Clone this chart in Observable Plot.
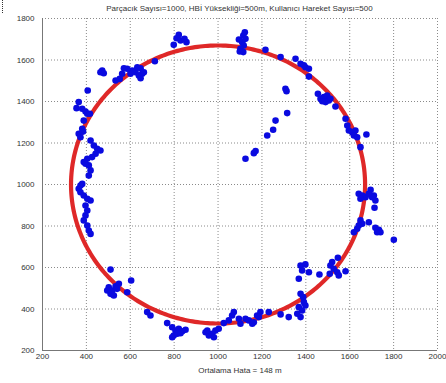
<!DOCTYPE html>
<html>
<head>
<meta charset="utf-8">
<script src="https://cdn.jsdelivr.net/npm/d3@7"></script>
<script src="https://cdn.jsdelivr.net/npm/@observablehq/plot@0.6"></script>
<style>
  html, body { margin: 0; padding: 0; background: #fff; }
  #wrap { position: relative; width: 446px; height: 383px; overflow: hidden; font-family: "Liberation Sans", Arial, sans-serif; }
  #frame { position: absolute; left: 2px; top: 0; height: 383px; border-left: 1px dotted #333; }
  #title { position: absolute; left: 42px; top: 3px; width: 395px; text-align: center; font-size: 8px; line-height: 11px; color: #333; white-space: nowrap; }
  #chart { position: absolute; left: 0; top: 14px; }
</style>
</head>
<body>
<div id="wrap">
  <div id="frame"></div>
  <div id="title"></div>
  <div id="chart"></div>
</div>
<script>
// Simulation settings shown in the title and the error label
const titleText = "Parçacık Sayısı=1000, HBİ Yüksekliği=500m, Kullanıcı Hareket Sayısı=500";
const xLabel = "Ortalama Hata = 148 m";

// Axis ticks
const xTicks = [200, 400, 600, 800, 1000, 1200, 1400, 1600, 1800, 2000];
const yTicks = [200, 400, 600, 800, 1000, 1200, 1400, 1600, 1800];

// True user track: a circle
const trackCenter = [1000, 1000];
const trackRadius = 670;

// Particle-filter position estimates [x, y] in metres
const estimates = [
  // top
  [821,1721],[811,1705],[829,1694],[856,1686],[798,1673],[847,1702],
  [1122,1734],[1115,1718],[1095,1699],[1110,1686],[1117,1670],[1102,1654],[1115,1638],[1099,1641],[1125,1702],
  [712,1594],[1216,1649],[1285,1614],[1353,1606],
  // upper left arc
  [647,1560],[624,1541],[639,1525],[654,1534],[609,1549],[586,1558],[571,1560],[563,1534],[552,1509],[533,1501],
  [647,1512],[662,1541],[632,1565],[601,1534],
  [472,1549],[464,1541],[479,1536],[406,1453],
  // left side
  [365,1397],[355,1368],[381,1365],[396,1352],[404,1341],[388,1308],[381,1268],[365,1244],[373,1228],[385,1255],[416,1341],
  [419,1212],[434,1188],[449,1172],[464,1164],[442,1148],[426,1132],[404,1124],[388,1108],[411,1092],[419,1068],[411,1043],[396,1100],
  [381,1003],[365,979],[373,963],[388,947],[404,931],[419,923],[396,899],[404,875],[396,851],[388,827],[404,802],[411,778],[419,762],[373,995],
  // lower left arc
  [510,590],[604,537],[586,481],
  [502,505],[518,489],[533,509],[548,522],[510,473],[525,465],[540,497],[495,489],
  [677,385],[692,369],
  // bottom
  [768,332],[791,312],[806,296],[798,272],[821,305],[837,293],[852,300],[814,281],[791,264],[829,283],
  [943,288],[958,272],[973,281],[988,296],[1003,305],[981,264],[951,296],
  [1026,332],[1049,345],[1072,385],[1064,369],[1095,353],[1102,329],
  [1125,353],[1140,345],[1156,329],[1163,336],[1178,369],[1193,385],[1186,361],[1231,385],[1285,374],[1322,361],
  // lower right arc
  [1376,610],[1398,615],[1414,577],[1383,586],[1368,546],[1376,473],[1391,433],[1368,409],[1383,393],[1376,361],[1361,377],[1398,417],[1388,457],
  [1462,566],
  [1520,626],[1512,610],[1527,594],[1543,577],[1550,562],[1546,647],[1581,582],[1509,570],
  // right side
  [1641,955],[1657,947],[1672,939],[1695,974],[1710,947],[1717,923],[1702,939],[1649,931],[1687,955],[1713,888],
  [1649,827],[1657,811],[1634,787],[1619,770],[1687,818],[1641,802],
  [1717,791],[1733,782],[1740,770],[1725,770],
  [1801,734],
  // upper right arc
  [1376,1582],[1398,1565],[1414,1558],[1391,1574],[1414,1520],
  [1455,1437],[1467,1413],[1482,1421],[1497,1429],[1505,1405],[1490,1397],[1475,1401],[1512,1413],[1535,1376],
  [1581,1317],[1589,1284],[1596,1260],[1611,1252],[1626,1260],[1619,1236],[1634,1228],[1676,1241],[1649,1180],
  // interior
  [1307,1461],[1312,1450],[1315,1344],[1262,1308],[1251,1264],[1224,1236],[1171,1161],[1163,1151],[1125,1124]
];

// Sample the circular track for drawing
const trueTrack = d3.range(0, 361, 1).map(deg => {
  const a = deg * Math.PI / 180;
  return { x: trackCenter[0] + trackRadius * Math.cos(a), y: trackCenter[1] + trackRadius * Math.sin(a) };
});

document.getElementById("title").textContent = titleText;

const chart = Plot.plot({
  width: 446,
  height: 369,
  marginTop: 4,
  marginLeft: 42,
  marginRight: 9,
  marginBottom: 33,
  style: { fontFamily: "'Liberation Sans', Arial, sans-serif", fontSize: "8px", color: "#333", background: "white", overflow: "visible" },
  x: { domain: [200, 2000] },
  y: { domain: [200, 1800] },
  marks: [
    Plot.gridX(xTicks, { stroke: "#8a8a8a", strokeOpacity: 1, strokeDasharray: "1,2" }),
    Plot.gridY(yTicks, { stroke: "#8a8a8a", strokeOpacity: 1, strokeDasharray: "1,2" }),
    Plot.ruleX([200], { stroke: "#777", strokeWidth: 1 }),
    Plot.ruleY([200], { stroke: "#777", strokeWidth: 1 }),
    Plot.axisX(xTicks, { tickSize: 0, tickPadding: 3, tickFormat: d => String(d), label: null, fill: "#333" }),
    Plot.axisY(yTicks, { tickSize: 0, tickPadding: 8, tickFormat: d => String(d), label: null, fill: "#333" }),
    Plot.line(trueTrack, { x: "x", y: "y", stroke: "#dd1c1c", strokeWidth: 4.2, strokeOpacity: 0.95 }),
    Plot.dot(estimates, { x: d => d[0], y: d => d[1], r: 3.3, fill: "#0a0ae0", stroke: "none" }),
    Plot.text([xLabel], { frameAnchor: "bottom", dy: 22, text: d => d, fill: "#333", fontSize: 8 })
  ]
});
document.getElementById("chart").appendChild(chart);
</script>
</body>
</html>
